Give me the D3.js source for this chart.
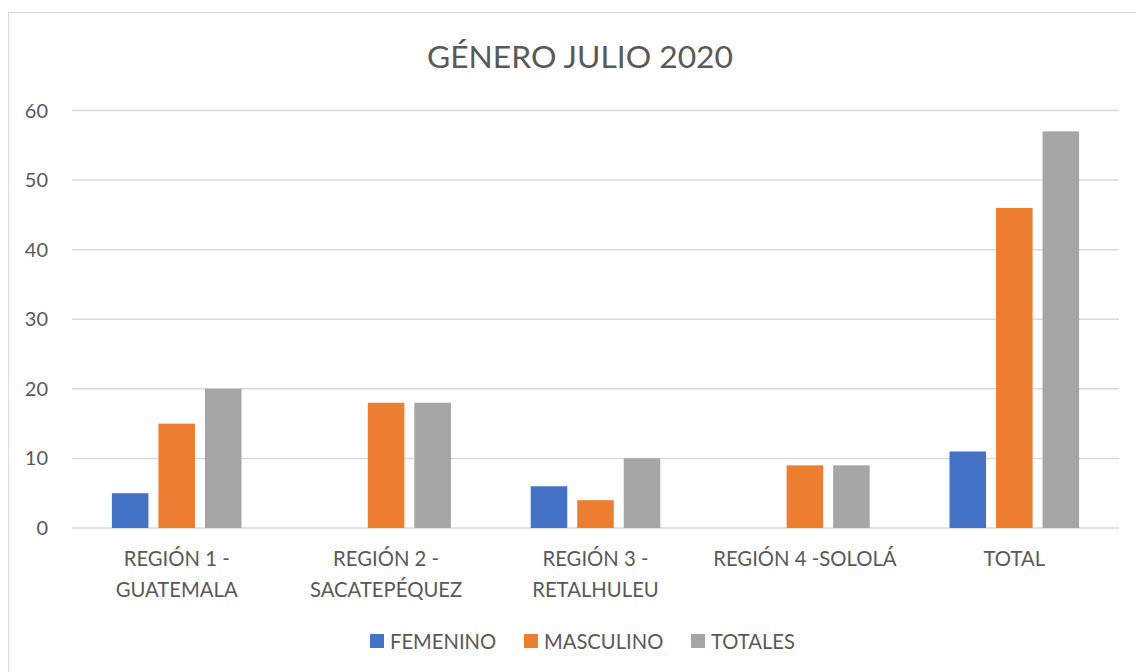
<!DOCTYPE html>
<html>
<head>
<meta charset="utf-8">
<script src="https://cdn.jsdelivr.net/npm/d3@7"></script>
<style>
  body { margin:0; background:#fff; }
  text { font-family: Lato, "Open Sans", sans-serif; fill:#595959; }
</style>
</head>
<body>
<div id="chart"></div>
<script>
const categories = [["REGIÓN 1 -","GUATEMALA"],["REGIÓN 2 -","SACATEPÉQUEZ"],["REGIÓN 3 -","RETALHULEU"],["REGIÓN 4 -SOLOLÁ"],["TOTAL"]];
const seriesNames = ["FEMENINO","MASCULINO","TOTALES"];
const femenino = [5, 0, 6, 0, 11];
const masculino = [15, 18, 4, 9, 46];
const totales = [20, 18, 10, 9, 57];
const yTicks = [0,10,20,30,40,50,60];
const colors = ["#4472c4","#ed7d31","#a5a5a5"];

const width=1136, height=672;
const svg = d3.select("#chart").append("svg").attr("width",width).attr("height",height);

// chart frame
svg.append("rect").attr("x",8.5).attr("y",12.5).attr("width",1140).attr("height",680)
  .attr("fill","none").attr("stroke","#d9d9d9");

svg.append("text").attr("x",580).attr("y",68).attr("text-anchor","middle")
  .attr("font-size",31.8).text("GÉNERO JULIO 2020");

const plotL=72, plotR=1119, plotT=110.5, plotB=528;
const x0 = d3.scaleBand().domain(d3.range(categories.length)).range([plotL,plotR]);
const groupW = 129.6;
const x1 = d3.scaleBand().domain(seriesNames).range([0,groupW]).paddingInner(0.2146);
const y = d3.scaleLinear().domain([0,60]).range([plotB,plotT]);

svg.append("g").selectAll("line").data(yTicks).enter().append("line")
  .attr("x1",plotL).attr("x2",plotR).attr("y1",d=>y(d)).attr("y2",d=>y(d))
  .attr("stroke","#d9d9d9").attr("stroke-width",1.5);

svg.append("g").selectAll("text").data(yTicks).enter().append("text")
  .attr("x",48).attr("y",d=>y(d)+7).attr("text-anchor","end").attr("font-size",20)
  .text(d=>d);

const series = [femenino, masculino, totales];
seriesNames.forEach((s,si)=>{
  svg.append("g").selectAll("rect").data(series[si]).enter().append("rect")
    .attr("x",(d,i)=>x0(i)+(x0.bandwidth()-groupW)/2+x1(s))
    .attr("width",x1.bandwidth())
    .attr("y",d=>y(d)).attr("height",d=>y(0)-y(d))
    .attr("fill",colors[si]);
});

const catLabels = svg.append("g").selectAll("text").data(categories).enter().append("text")
  .attr("x",(d,i)=>x0(i)+x0.bandwidth()/2).attr("y",566).attr("text-anchor","middle").attr("font-size",20.3);
catLabels.selectAll("tspan").data(d=>d).enter().append("tspan")
  .attr("x",function(){ return this.parentNode.getAttribute("x"); })
  .attr("dy",(d,i)=>i?31:0).text(d=>d);

const legendX = [370,524,691];
const lg = svg.append("g").selectAll("g").data(seriesNames).enter().append("g")
  .attr("transform",(d,i)=>`translate(${legendX[i]},634)`);
lg.append("rect").attr("width",14).attr("height",14).attr("fill",(d,i)=>colors[i]);
lg.append("text").attr("x",20).attr("y",14.5).attr("font-size",20.2).text(d=>d);
</script>
</body>
</html>
